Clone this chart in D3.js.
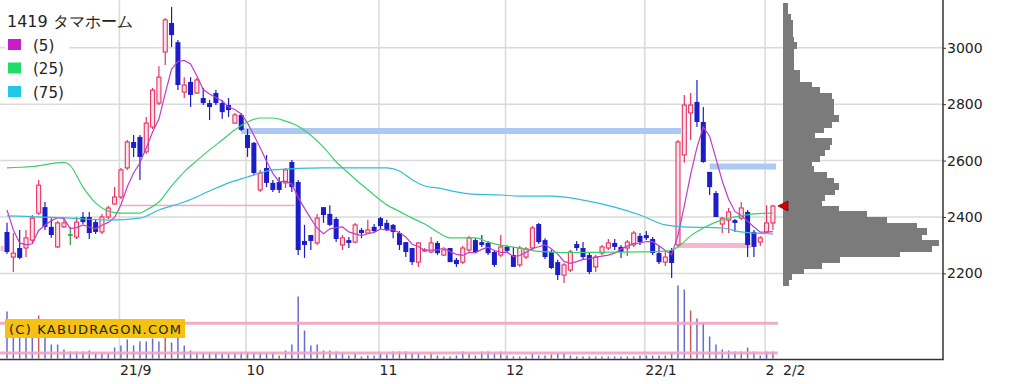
<!DOCTYPE html>
<html>
<head>
<meta charset="utf-8">
<script src="https://d3js.org/d3.v7.min.js"></script>
<title>1419 タマホーム</title>
<style>
  body { margin: 0; background: #fff; }
  text { font-family: "DejaVu Sans", sans-serif; fill: #222; }
</style>
</head>
<body>
<div id="chart"></div>
<script>
// ---- data ----
const title = "1419 タマホーム";
const maLabels = ["(5)", "(25)", "(75)"];

const months = ["2021-08", "2021-09", "2021-10", "2021-11", "2021-12", "2022-01", "2022-02"];
const monthDays = [
  [5, 6, 10, 11, 12, 13, 16, 17, 18, 19, 20, 23, 24, 25, 26, 27, 30, 31],
  [1, 2, 3, 6, 7, 8, 9, 10, 13, 14, 15, 16, 17, 21, 22, 24, 27, 28, 29, 30],
  [1, 4, 5, 6, 7, 8, 11, 12, 13, 14, 15, 18, 19, 20, 21, 22, 25, 26, 27, 28, 29],
  [1, 2, 4, 5, 8, 9, 10, 11, 12, 15, 16, 17, 18, 19, 22, 24, 25, 26, 29, 30],
  [1, 2, 3, 6, 7, 8, 9, 10, 13, 14, 15, 16, 17, 20, 21, 22, 23, 24, 27, 28, 29, 30],
  [4, 5, 6, 7, 11, 12, 13, 14, 17, 18, 19, 20, 21, 24, 25, 26, 27, 28, 31],
  [1, 2]
];
const monthLabels = ["21/9", "10", "11", "12", "22/1", "2"];
const lastLabel = "2/2";

const open = [2347,2258,2290,2290,2318,2414,2435,2365,2294,2365,2336,2329,2400,2400,2382,2347,2400,2446,2471,2574,
  2666,2684,2631,2719,2804,2985,3088,3020,2843,2879,2840,2822,2804,2840,2804,2797,2733,2762,2691,2663,
  2496,2574,2521,2524,2521,2595,2524,2315,2336,2308,2435,2411,2393,2301,2318,2311,2354,2343,2365,2396,
  2379,2372,2343,2311,2290,2240,2280,2276,2308,2265,2290,2248,2240,2283,2318,2311,2308,2276,2265,2294,
  2265,2230,2258,2290,2375,2318,2276,2240,2194,2212,2304,2290,2265,2223,2272,2290,2308,2294,2290,2301,
  2333,2336,2322,2272,2240,2283,2301,2620,2769,2808,2737,2560,2485,2375,2389,2389,2396,2418,2347,2311,
  2347,2379];
const high = [2380,2343,2354,2354,2407,2531,2453,2396,2386,2400,2365,2400,2418,2418,2390,2411,2440,2506,2574,2673,
  2691,2691,2755,2858,2935,3106,3145,3028,2896,2896,2893,2858,2815,2850,2815,2822,2769,2769,2712,2666,
  2567,2620,2531,2542,2574,2602,2531,2372,2336,2411,2435,2442,2400,2336,2329,2379,2361,2390,2375,2400,
  2390,2375,2350,2311,2290,2311,2290,2329,2315,2287,2290,2255,2297,2333,2325,2336,2315,2283,2336,2300,
  2294,2297,2294,2368,2379,2325,2283,2248,2237,2283,2315,2311,2272,2265,2301,2322,2322,2301,2318,2350,
  2343,2350,2329,2297,2280,2290,2673,2833,2840,2886,2790,2560,2492,2400,2432,2393,2453,2425,2354,2333,
  2442,2443];
const low = [2270,2205,2250,2258,2308,2407,2354,2326,2290,2361,2301,2322,2375,2322,2340,2340,2393,2443,2464,2567,
  2613,2531,2624,2712,2797,2939,3003,2850,2822,2790,2836,2797,2744,2797,2748,2755,2730,2705,2613,2549,
  2489,2506,2489,2485,2503,2489,2265,2255,2283,2301,2379,2368,2311,2283,2290,2308,2325,2343,2343,2357,
  2350,2325,2283,2258,2230,2223,2276,2272,2265,2262,2240,2223,2233,2276,2272,2294,2265,2223,2258,2272,
  2223,2223,2251,2283,2304,2251,2216,2177,2166,2205,2280,2248,2198,2205,2265,2283,2283,2255,2262,2294,
  2301,2318,2265,2233,2226,2184,2294,2592,2673,2719,2592,2478,2400,2343,2343,2347,2389,2258,2258,2297,
  2343,2354];
const close = [2276,2272,2255,2326,2396,2513,2365,2336,2379,2379,2336,2382,2382,2343,2347,2400,2432,2471,2567,2666,
  2645,2613,2733,2850,2896,3099,3045,2868,2868,2833,2886,2804,2790,2804,2772,2779,2762,2709,2645,2556,
  2556,2521,2496,2496,2567,2506,2283,2301,2315,2396,2407,2372,2322,2326,2308,2372,2343,2354,2350,2368,
  2354,2347,2301,2276,2240,2308,2283,2308,2272,2283,2240,2233,2290,2326,2276,2301,2272,2230,2294,2280,
  2223,2290,2287,2361,2311,2258,2219,2194,2230,2276,2290,2258,2205,2258,2294,2308,2294,2276,2311,2343,
  2311,2325,2272,2240,2258,2237,2666,2797,2797,2737,2595,2506,2400,2396,2418,2379,2432,2301,2294,2326,
  2379,2439];
// volume, thousand shares
const volume = [235,150,140,150,160,215,150,70,70,45,35,35,35,40,25,25,25,55,65,95,
  65,85,85,100,85,110,80,110,65,40,30,30,30,25,30,25,25,30,30,30,
  30,30,30,15,40,70,310,140,65,70,40,40,35,25,15,25,10,15,15,25,
  20,35,35,35,25,25,15,30,15,10,10,15,35,25,15,35,35,30,35,15,
  10,10,10,25,15,15,20,25,25,15,10,10,10,10,10,10,10,10,10,10,
  15,15,15,15,15,30,365,345,240,200,180,110,70,45,40,35,35,55,35,15,
  35,35];
const volRed = [5, 25, 43, 67, 86, 108];
const volLevels = [176, 28];

// moving averages: first points of the 5-day line, and read-off knots of the 25 / 75 day lines
const ma5Head = [2425, 2354, 2308, 2301];
const ma25Idx = [0,4,9,10,12,14,16,18,21,22,24,26,28,30,32,34,36,38,40,42,44,46,48,50,52,54,56,58,60,62,64,66,68,70,74,76,78,80,82,84,88,100,104,105,106,108,110,112,114,116,118,121];
const ma25Val = [2574,2579,2594,2582,2506,2450,2421,2414,2414,2425,2453,2510,2560,2600,2638,2673,2709,2737,2751,2751,2740,2722,2690,2648,2596,2555,2515,2478,2443,2420,2396,2375,2347,2326,2326,2311,2300,2293,2286,2278,2274,2276,2279,2283,2294,2333,2361,2382,2396,2404,2411,2414];
const ma75Idx = [0,10,16,21,24,28,32,35,38,40,42,50,60,62,64,66,68,71,73,78,81,86,91,96,100,104,107,113,116,121];
const ma75Val = [2404,2396,2389,2396,2425,2453,2492,2521,2542,2556,2567,2574,2574,2563,2532,2510,2503,2489,2482,2478,2474,2474,2460,2435,2407,2372,2365,2361,2347,2340];

// support / resistance levels
const levelPrice = [2705, 2579, 2299, 2441, 2288];
const levelFrom = [37, 111, 106, 18, -1];
const levelTo = [106, 121, 117, 45, -1];
const levelKind = ["blue", "blue", "pink", "thin", "pink"];

// price-by-volume profile, 20 yen buckets from 2160 up
const profileLow = 2160, profileStep = 20;
const profile = [5.7,9,21,39,57,117,149,156,139,144,134,104,84,56,39,42,52,56,51,44,
  31,29,37,42,47,49,32,41,49,56,51,51,51,49,37,29,17,17,11,11,
  11,11,14,10.5,9.7,9.7,9.7,8,4.7,4.5];

const priceTicks = [2200, 2400, 2600, 2800, 3000];

// ---- layout ----
const W = 1014, H = 384;
const plotRight = 943, candleRight = 778, baseY = 359.5;
const n = close.length;
const dates = months.flatMap((m, k) => monthDays[k].map(d => m + "-" + String(d).padStart(2, "0")));

const svg = d3.select("#chart").append("svg").attr("width", W).attr("height", H);

const x = d3.scaleLinear().domain([0, n - 1]).range([7, 7 + 6.33 * (n - 1)]);
const y = d3.scaleLinear().domain([2200, 3000]).range([273.4, 47.8]);
const yv = d3.scaleLinear().domain([0, 400]).range([358.5, 278.5]);
const px = d3.scaleLinear().domain([0, 160]).range([783, 943]);

const monthStarts = dates.map((d, i) => i).filter(i => i > 0 && dates[i].slice(0, 7) !== dates[i - 1].slice(0, 7));

// grid
const grid = svg.append("g").attr("stroke", "#dadada").attr("stroke-width", 1.5);
grid.selectAll(".h").data(priceTicks).join("line")
  .attr("x1", 0).attr("x2", plotRight)
  .attr("y1", d => y(d)).attr("y2", d => y(d));
grid.selectAll(".v").data(monthStarts).join("line")
  .attr("x1", i => x(i) - 1.5).attr("x2", i => x(i) - 1.5)
  .attr("y1", 0).attr("y2", baseY);

// levels
const levelStyle = { blue: ["#abc9f2", 6], pink: ["#f5b8cf", 5], thin: ["#f2a9c6", 1.5] };
svg.append("g").selectAll("rect").data(levelPrice).join("rect")
  .attr("x", (p, k) => Math.max(0, x(levelFrom[k])))
  .attr("width", (p, k) => Math.min(candleRight, x(levelTo[k]) + 3) - Math.max(0, x(levelFrom[k])))
  .attr("y", (p, k) => y(p) - levelStyle[levelKind[k]][1] / 2)
  .attr("height", (p, k) => levelStyle[levelKind[k]][1])
  .attr("fill", (p, k) => levelStyle[levelKind[k]][0]);

// volume profile (buckets overlap by a pixel so no seams show)
svg.append("g").attr("shape-rendering", "crispEdges")
  .selectAll("rect").data(profile).join("rect")
  .attr("x", px(0))
  .attr("y", (v, k) => y(profileLow + (k + 1) * profileStep))
  .attr("height", (v, k) => y(profileLow + k * profileStep) - y(profileLow + (k + 1) * profileStep) + 1)
  .attr("width", v => px(v) - px(0))
  .attr("fill", "#7b7b7b");

// volume bars
svg.append("g").selectAll("line").data(volume).join("line")
  .attr("x1", (v, i) => x(i)).attr("x2", (v, i) => x(i))
  .attr("y1", yv(0)).attr("y2", v => yv(v))
  .attr("stroke", (v, i) => volRed.includes(i) ? "#d05a5a" : "#6a6ad0")
  .attr("stroke-width", 1.5);

svg.append("g").selectAll("line").data(volLevels).join("line")
  .attr("x1", 0).attr("x2", candleRight)
  .attr("y1", v => yv(v)).attr("y2", v => yv(v))
  .attr("stroke", "#f2a3c3").attr("stroke-width", 3).attr("opacity", 0.9);

svg.append("rect").attr("x", 5).attr("y", 319).attr("width", 180).attr("height", 19).attr("fill", "#f5c212");
svg.append("text").attr("x", 9).attr("y", 333.5).attr("font-size", 13)
  .attr("textLength", 172).attr("lengthAdjust", "spacing")
  .text("(C) KABUDRAGON.COM");

// candles
const upC = "#e6325f", downC = "#1c1cc8", flatC = "#2a9a3a";
const kind = i => close[i] > open[i] ? "up" : close[i] < open[i] ? "down" : "flat";
const col = i => ({ up: upC, down: downC, flat: flatC })[kind(i)];
const cg = svg.append("g");
cg.selectAll("line.wick").data(d3.range(n)).join("line")
  .attr("x1", i => x(i)).attr("x2", i => x(i))
  .attr("y1", i => y(high[i])).attr("y2", i => y(low[i]))
  .attr("stroke", col).attr("stroke-width", 1.2);
cg.selectAll("rect").data(d3.range(n).filter(i => kind(i) !== "flat")).join("rect")
  .attr("x", i => kind(i) === "up" ? x(i) - 2 : x(i) - 2.5)
  .attr("width", i => kind(i) === "up" ? 4 : 5)
  .attr("y", i => y(Math.max(open[i], close[i])))
  .attr("height", i => Math.max(1, Math.abs(y(open[i]) - y(close[i]))))
  .attr("fill", i => kind(i) === "up" ? "#fde3ec" : downC)
  .attr("stroke", i => kind(i) === "up" ? upC : "none")
  .attr("stroke-width", 1.1);
cg.selectAll("line.doji").data(d3.range(n).filter(i => kind(i) === "flat")).join("line")
  .attr("x1", i => x(i) - 2.5).attr("x2", i => x(i) + 2.5)
  .attr("y1", i => y(close[i])).attr("y2", i => y(close[i]))
  .attr("stroke", flatC).attr("stroke-width", 1.5);

// moving averages
const ma5 = close.map((c, i) => i < 4 ? ma5Head[i] : d3.mean(close.slice(i - 4, i + 1)));
const line = d3.line().x(d => x(d[0])).y(d => y(d[1]));
const maColors = ["#c23cc8", "#3ccf6e", "#34bcd6"];
svg.append("path").attr("d", line(ma5.map((v, i) => [i, v])))
  .attr("fill", "none").attr("stroke", maColors[0]).attr("stroke-width", 1.2);
svg.append("path").attr("d", line.curve(d3.curveMonotoneX)(ma25Idx.map((i, k) => [i, ma25Val[k]])))
  .attr("fill", "none").attr("stroke", maColors[1]).attr("stroke-width", 1.2);
svg.append("path").attr("d", line.curve(d3.curveMonotoneX)(ma75Idx.map((i, k) => [i, ma75Val[k]])))
  .attr("fill", "none").attr("stroke", maColors[2]).attr("stroke-width", 1.2);

// last price marker
const ly = y(close[n - 1]);
svg.append("path").attr("d", `M${candleRight},${ly} L${candleRight + 10},${ly - 5} L${candleRight + 10},${ly + 5} Z`)
  .attr("fill", "#d40000").attr("stroke", "#700").attr("stroke-width", 0.8);

// axes frame
svg.append("line").attr("x1", 0).attr("x2", plotRight + 0.75).attr("y1", baseY).attr("y2", baseY)
  .attr("stroke", "#333").attr("stroke-width", 1.5);
svg.append("line").attr("x1", plotRight).attr("x2", plotRight).attr("y1", 0).attr("y2", baseY)
  .attr("stroke", "#333").attr("stroke-width", 1.5);

const yAxis = svg.append("g").attr("transform", `translate(${plotRight},0)`)
  .call(d3.axisRight(y).tickValues(priceTicks).tickSize(3).tickFormat(d3.format("d")));
yAxis.select(".domain").remove();
yAxis.selectAll("line").attr("stroke", "#333");
yAxis.selectAll("text").attr("font-size", 14).attr("font-family", "DejaVu Sans").attr("fill", "#222").attr("x", 4);

svg.append("g").selectAll("text").data(monthStarts).join("text")
  .attr("x", i => x(i) - 1).attr("y", 375).attr("font-size", 14)
  .text((i, k) => monthLabels[k]);
svg.append("text").attr("x", 783).attr("y", 375).attr("font-size", 14).text(lastLabel);

// title + legend
svg.append("text").attr("x", 7).attr("y", 27).attr("font-size", 16)
  .attr("font-family", "Noto Sans CJK JP").text(title);
svg.append("rect").attr("x", 5).attr("y", 36).attr("width", 64).attr("height", 64).attr("fill", "#fff");
const lg = svg.append("g").selectAll("g").data(maLabels).join("g")
  .attr("transform", (d, k) => `translate(8,${39 + k * 23.5})`);
lg.append("rect").attr("width", 13).attr("height", 11).attr("fill", (d, k) => ["#c81ec8", "#1edc64", "#1ec8e6"][k]);
lg.append("text").attr("x", 25).attr("y", 11.5).attr("font-size", 15).text(d => d);
</script>
</body>
</html>
